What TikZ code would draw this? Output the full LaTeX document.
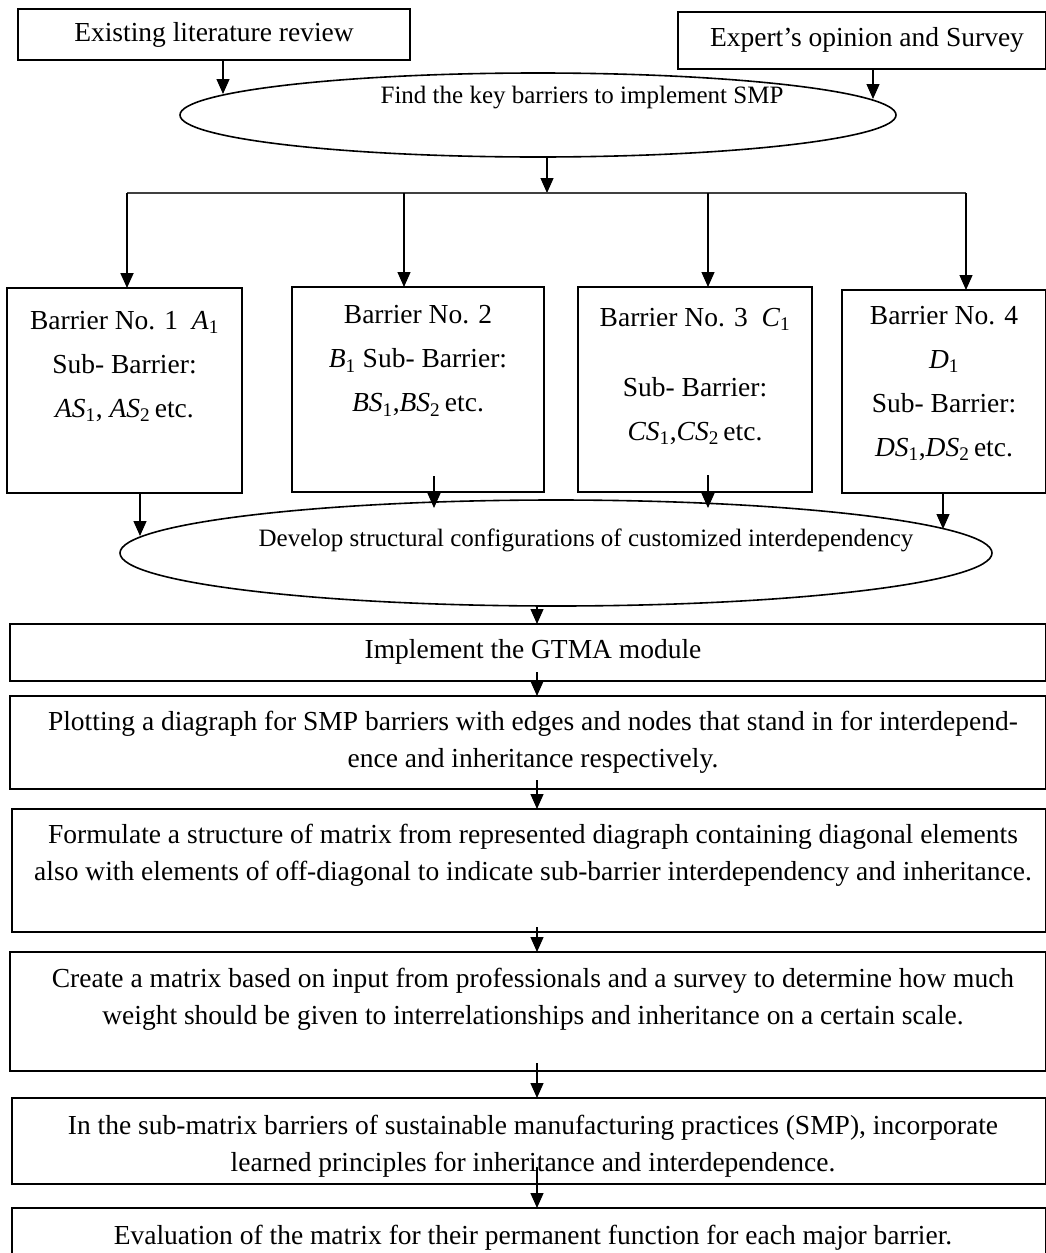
\documentclass[tikz,border=0pt]{standalone}
\usepackage{fontspec}
\setmainfont{Liberation Serif}
\usetikzlibrary{shapes.geometric,arrows.meta,calc}
\newcommand{\ms}[2]{\textit{#1}\textsubscript{#2}}
\tikzset{
 frame/.style={draw, line width=1.6pt, inner sep=0pt, outer sep=0pt},
 oval/.style={draw, ellipse, line width=1.6pt, inner sep=0pt, outer sep=0pt},
 txt/.style={align=center, inner sep=0pt, font=\fontsize{27.5}{37}\selectfont},
 btxt/.style={align=center, inner sep=0pt, font=\fontsize{27.5}{44}\selectfont},
 etxt/.style={inner sep=0pt, font=\fontsize{25}{30}\selectfont},
 arr/.style={-{Triangle[length=15pt,width=13pt]}, line width=1.3pt},
 hline/.style={line width=1.6pt, draw=black!75}
}
\begin{document}
\begin{tikzpicture}[x=1pt,y=-1pt]
\useasboundingbox (0,0) rectangle (1046,1253);
\clip (0,0) rectangle (1046,1253);
\fill[white] (0,0) rectangle (1046,1253);

% top sources
\node[frame, minimum width=392pt, minimum height=51pt] (lit) at (214,34.5) {};
\node[txt] (litt) at (214,35) {Existing literature review};
\node[frame, minimum width=368pt, minimum height=57pt] (exp) at (862,40.5) {};
\node[txt] (expt) at (867,40) {Expert’s opinion and Survey};

% ellipse 1
\node[oval, minimum width=716pt, minimum height=84pt] (e1) at (538,115) {};
\node[etxt] (e1t) at (582,98) {Find the key barriers to implement SMP};

\coordinate (t1) at (223,94);
\coordinate (t2) at (873,99);
\draw[arr] (lit.south -| t1) -- (t1);
\draw[arr] (exp.south -| t2) -- (t2);

% distribution line
\coordinate (h0) at (547,193);
\draw[arr] (e1.south -| h0) -- (h0);
\coordinate (hl) at (127,193);
\coordinate (h2) at (404,193);
\coordinate (h3) at (708,193);
\coordinate (hr) at (966,193);
\draw[hline] (hl) -- (hr);

% barrier boxes
\node[frame, minimum width=235pt, minimum height=205pt] (b1) at (124.5,390.5) {};
\node[btxt] (b1t) at (124.5,366.5) {Barrier No. 1~ \ms{A}{1}\\Sub- Barrier:\\\ms{AS}{1}, \ms{AS}{2}\,etc.};
\node[frame, minimum width=252pt, minimum height=205pt] (b2) at (418,389.5) {};
\node[btxt] (b2t) at (418,361) {Barrier No. 2\\\ms{B}{1} Sub- Barrier:\\\ms{BS}{1},\ms{BS}{2}\,etc.};
\node[frame, minimum width=234pt, minimum height=205pt] (b3) at (695,389.5) {};
\node[btxt] (b3t) at (695,376.5) {Barrier No. 3~ \ms{C}{1}\\[26pt]Sub- Barrier:\\\ms{CS}{1},\ms{CS}{2}\,etc.};
\node[frame, minimum width=204pt, minimum height=203pt] (b4) at (944,391.5) {};
\node[btxt] (b4t) at (944,383.5) {Barrier No. 4\\\ms{D}{1}\\Sub- Barrier:\\\ms{DS}{1},\ms{DS}{2}\,etc.};

\draw[arr, line width=1.8pt] (hl) -- (hl |- b1.north);
\draw[arr] (h2) -- (h2 |- b2.north);
\draw[arr] (h3) -- (h3 |- b3.north);
\draw[arr] (hr) -- (hr |- b4.north);

% ellipse 2
\node[oval, minimum width=872pt, minimum height=106pt] (e2) at (556,553) {};
\node[etxt] (e2t) at (586,540) {Develop structural configurations of customized interdependency};

\coordinate (u1) at (140,536);
\coordinate (u2) at (434,508);
\coordinate (u3) at (708,508);
\coordinate (u4) at (943,529);
\draw[arr] (b1.south -| u1) -- (u1);
\draw[arr] ($(b2.south -| u2)+(0,-16)$) -- (u2);
\draw[arr] ($(b3.south -| u3)+(0,-17)$) -- (u3);
\draw[arr] (b4.south -| u4) -- (u4);

% lower chain
\coordinate (ax) at (537,0);
\node[frame, minimum width=1036pt, minimum height=57pt] (gt) at (528,652.5) {};
\node[txt] (gtt) at (533,652) {Implement the GTMA module};
\node[frame, minimum width=1036pt, minimum height=93pt] (pl) at (528,742.5) {};
\node[txt] (plt) at (533,742) {Plotting a diagraph for SMP barriers with edges and nodes that stand in for interdepend-\\ence and inheritance respectively.};
\node[frame, minimum width=1034pt, minimum height=123pt] (fo) at (529,870.5) {};
\node[txt] (fot) at (533,855) {Formulate a structure of matrix from represented diagraph containing diagonal elements\\also with elements of off-diagonal to indicate sub-barrier interdependency and inheritance.};
\node[frame, minimum width=1036pt, minimum height=119pt] (cr) at (528,1011.5) {};
\node[txt] (crt) at (533,999) {Create a matrix based on input from professionals and a survey to determine how much\\weight should be given to interrelationships and inheritance on a certain scale.};
\node[frame, minimum width=1034pt, minimum height=86pt] (sm) at (529,1141) {};
\node[txt] (smt) at (533,1146) {In the sub-matrix barriers of sustainable manufacturing practices (SMP), incorporate\\learned principles for inheritance and interdependence.};
\node[frame, minimum width=1034pt, minimum height=62pt] (ev) at (529,1239) {};
\node[txt] (evt) at (533,1238) {Evaluation of the matrix for their permanent function for each major barrier.};

\draw[arr] (e2.south -| ax) -- (gt.north -| ax);
\draw[arr] ($(gt.south -| ax)+(0,-9)$) -- (pl.north -| ax);
\draw[arr] ($(pl.south -| ax)+(0,-9)$) -- (fo.north -| ax);
\draw[arr] ($(fo.south -| ax)+(0,-5)$) -- (cr.north -| ax);
\draw[arr] ($(cr.south -| ax)+(0,-8)$) -- (sm.north -| ax);
\draw[arr] ($(sm.south -| ax)+(0,-17)$) -- (ev.north -| ax);
\end{tikzpicture}
\end{document}
